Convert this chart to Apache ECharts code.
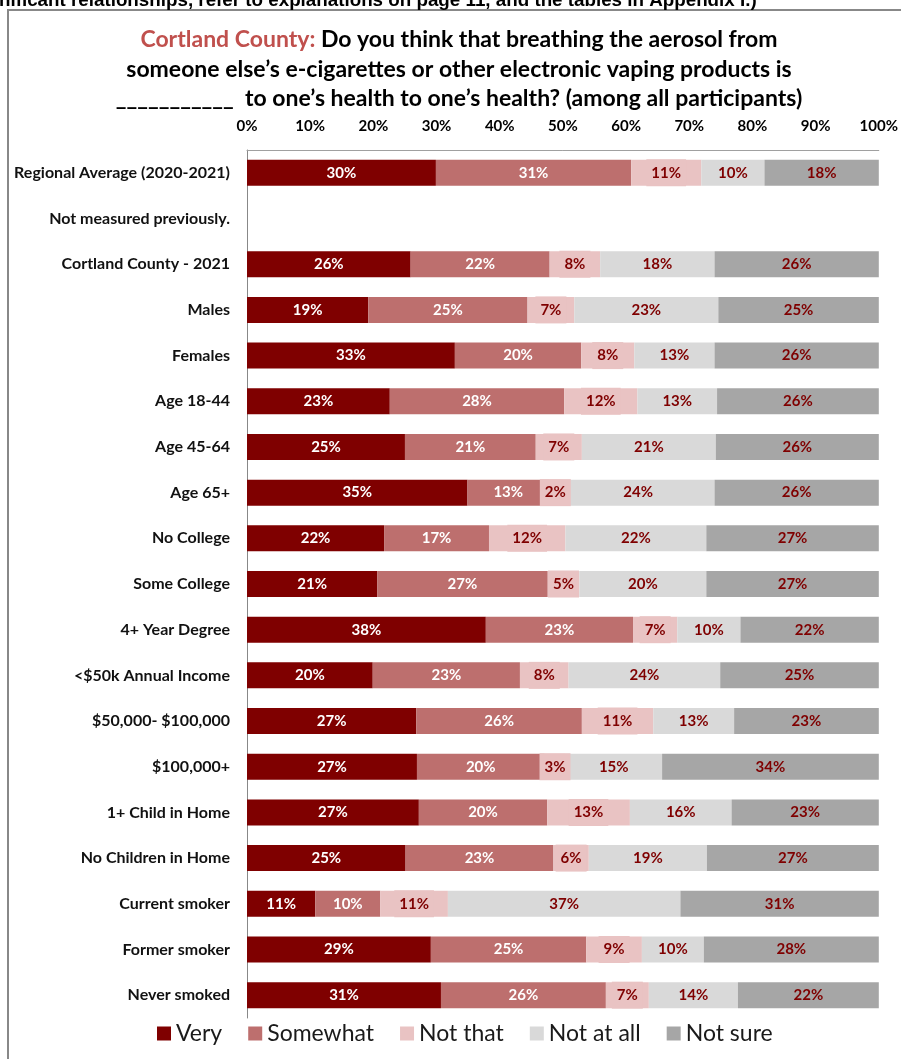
<!DOCTYPE html>
<html>
<head>
<meta charset="utf-8">
<style>
  html, body { margin: 0; padding: 0; background: #fff; }
  #chart { width: 901px; height: 1059px; }
</style>
<script src="https://cdn.jsdelivr.net/npm/echarts@6/dist/echarts.min.js"></script>
</head>
<body>
<div id="chart"></div>
<script>
// row labels, top to bottom
var categories = [
  'Regional Average (2020-2021)', 'Not measured previously.', 'Cortland County - 2021',
  'Males', 'Females', 'Age 18-44', 'Age 45-64', 'Age 65+', 'No College', 'Some College',
  '4+ Year Degree', '<$50k Annual Income', '$50,000- $100,000', '$100,000+',
  '1+ Child in Home', 'No Children in Home', 'Current smoker', 'Former smoker', 'Never smoked'
]
var xTicks = [0, 10, 20, 30, 40, 50, 60, 70, 80, 90, 100]

// percentages (labels are the rounded values)
var very = [29.9, null, 25.9, 19.2, 32.9, 22.6, 25.0, 34.9, 21.7, 20.6, 37.8, 19.9, 26.8, 26.9, 27.2, 25.1, 10.8, 29.1, 30.7]
var somewhat = [30.9, null, 22.0, 25.2, 20.0, 27.6, 20.7, 12.9, 16.6, 27.0, 23.3, 23.3, 26.2, 20.2, 20.3, 23.4, 10.3, 24.6, 26.1]
var notThat = [11.1, null, 8.0, 7.4, 8.4, 11.6, 7.3, 2.0, 12.1, 5.0, 7.0, 7.7, 11.3, 3.3, 13.1, 5.6, 10.7, 8.8, 6.8]
var notAtAll = [10.0, null, 18.1, 22.8, 12.7, 12.6, 21.2, 24.2, 22.3, 20.1, 10.0, 24.0, 12.8, 15.3, 16.1, 18.7, 36.8, 9.8, 14.1]
var notSure = [18.1, null, 26.0, 25.4, 26.0, 25.6, 25.8, 26.0, 27.3, 27.3, 21.9, 25.1, 22.9, 34.3, 23.3, 27.2, 31.4, 27.7, 22.3]

var seriesNames = ['Very', 'Somewhat', 'Not that', 'Not at all', 'Not sure']
var seriesColors = ['#7f0000', '#bd6f6e', '#e9c3c3', '#d9d9d9', '#a6a6a6']
var labelColors = ['#ffffff', '#ffffff', '#7f0000', '#7f0000', '#7f0000']

var FONT = 'Lato, "Open Sans", sans-serif'

var chart = echarts.init(document.getElementById('chart'))

var series = [very, somewhat, notThat, notAtAll, notSure].map(function(data, i) {
  var label = {
    show: true,
    position: 'inside',
    color: labelColors[i],
    fontFamily: FONT,
    fontWeight: 'bold',
    fontSize: 15,
    formatter: function(p) {
      return p.value == null ? '' : Math.round(p.value) + '%'
    }
  }
  // the "Not that" labels sit on a box of the bar colour, a bit larger than the bar
  if (i === 2) {
    label.backgroundColor = seriesColors[2]
    label.padding = [6, 5, 6, 5]
  }
  return {
    name: seriesNames[i],
    type: 'bar',
    stack: 'total',
    barWidth: 26,
    data: data,
    itemStyle: { color: seriesColors[i] },
    label: label
  }
})

chart.setOption({
  backgroundColor: '#ffffff',
  animation: false,
  title: {
    text: '{red|Cortland County:} Do you think that breathing the aerosol from\n' +
      'someone else\u2019s e-cigarettes or other electronic vaping products is\n' +
      '___________  to one\u2019s health to one\u2019s health? (among all participants)',
    left: 459,
    textAlign: 'center',
    top: 25,
    padding: 0,
    textStyle: {
      fontFamily: FONT,
      fontWeight: 'bold',
      fontSize: 23,
      lineHeight: 29.5,
      color: '#000000',
      rich: {
        red: { color: '#c0504d', fontFamily: FONT, fontWeight: 'bold', fontSize: 23, lineHeight: 29.5 }
      }
    }
  },
  legend: {
    data: seriesNames,
    bottom: 9,
    left: 152,
    itemWidth: 14,
    itemHeight: 14,
    itemGap: 26,
    icon: 'rect',
    textStyle: { fontFamily: FONT, fontSize: 23, color: '#1a1a1a' }
  },
  grid: {
    left: 247,
    right: 20,
    top: 150,
    bottom: 41,
    containLabel: false
  },
  xAxis: {
    type: 'value',
    position: 'top',
    min: xTicks[0],
    max: xTicks[xTicks.length - 1],
    interval: 10,
    axisLine: { show: true, lineStyle: { color: '#a0a0a0', width: 1 } },
    axisTick: { show: false },
    splitLine: { show: false },
    axisLabel: {
      margin: 16,
      formatter: '{value}%',
      fontFamily: FONT,
      fontWeight: 'bold',
      fontSize: 15,
      color: '#000000'
    }
  },
  yAxis: {
    type: 'category',
    inverse: true,
    data: categories,
    axisLine: { show: true, lineStyle: { color: '#888888', width: 1 } },
    axisTick: { show: false },
    axisLabel: {
      margin: 17,
      fontFamily: FONT,
      fontWeight: 'bold',
      fontSize: 16,
      color: '#111111'
    }
  },
  graphic: [
    {
      // outer chart frame (only its top and left edges fall inside the picture)
      type: 'rect',
      shape: { x: 8, y: 10, width: 1000, height: 1200 },
      style: { fill: 'none', stroke: '#888888', lineWidth: 2 },
      silent: true
    },
    {
      // tail of the page text above the chart, cut off at the top
      type: 'text',
      x: -1,
      y: 10,
      style: {
        text: 'nificant relationships, refer to explanations on page 11, and the tables in Appendix I.)',
        font: 'bold 18.8px "Liberation Sans", Arial, sans-serif',
        fill: '#000000',
        verticalAlign: 'bottom'
      },
      silent: true
    }
  ],
  series: series
})
</script>
</body>
</html>
